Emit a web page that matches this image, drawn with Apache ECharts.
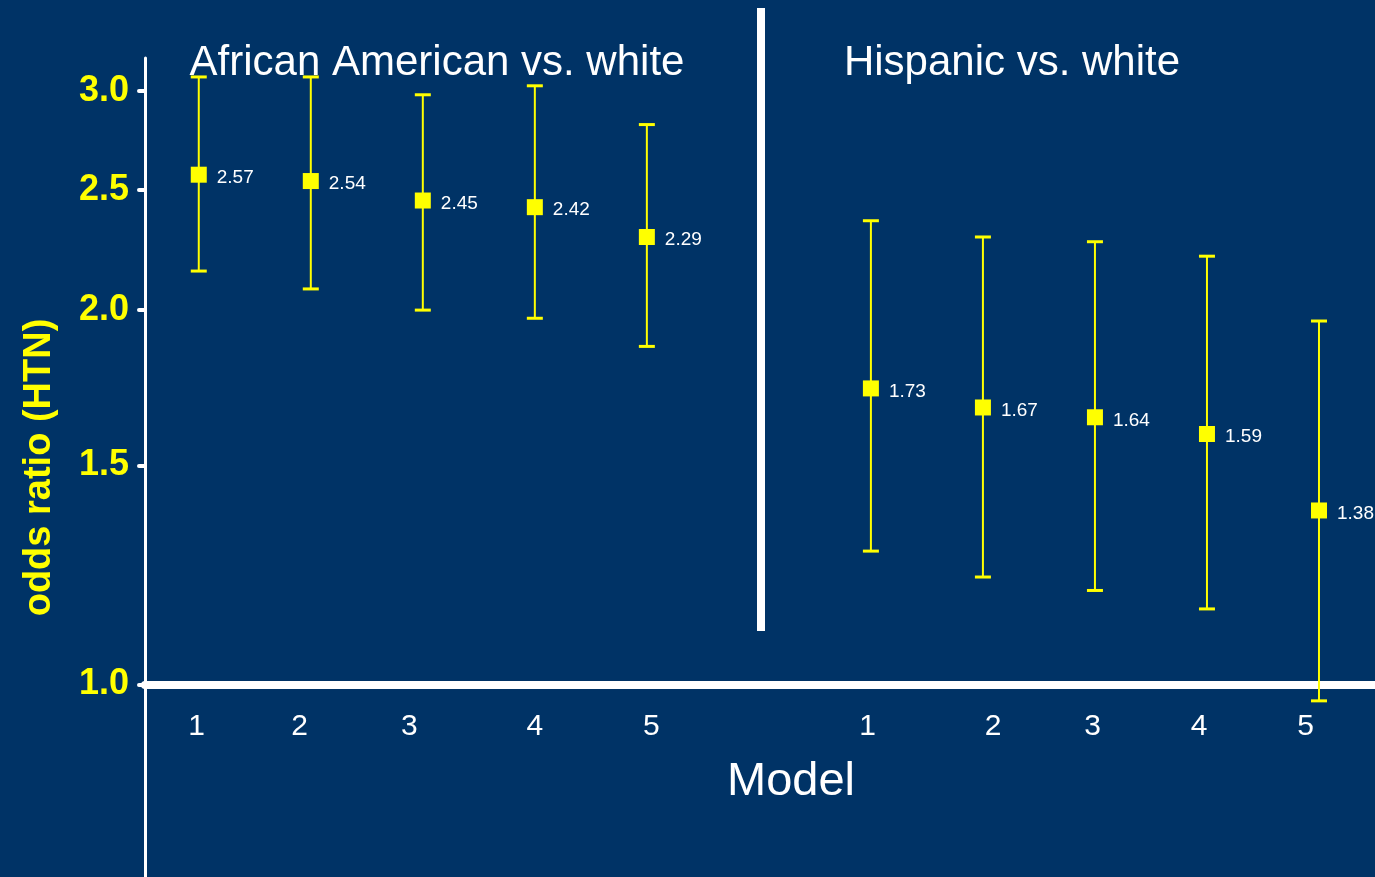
<!DOCTYPE html>
<html>
<head>
    <meta charset="UTF-8">
    <title>odds ratio (HTN)</title>
    <script src="https://cdn.jsdelivr.net/npm/echarts@6/dist/echarts.min.js"></script>
    <style>
        html, body { margin: 0; padding: 0; background: #003366; }
        #main { width: 1375px; height: 877px; }
    </style>
</head>
<body>
<div id="main"></div>
<script>
    // 数据
    var models = ['1', '2', '3', '4', '5'];
    var aaOR = [2.57, 2.54, 2.45, 2.42, 2.29];
    var aaLow = [2.15, 2.08, 2.00, 1.97, 1.87];
    var aaHigh = [3.08, 3.08, 2.98, 3.03, 2.82];
    var hisOR = [1.73, 1.67, 1.64, 1.59, 1.38];
    var hisLow = [1.28, 1.22, 1.19, 1.15, 0.97];
    var hisHigh = [2.36, 2.29, 2.27, 2.21, 1.96];
    var yTicks = [1.0, 1.5, 2.0, 2.5, 3.0];

    // x 位置：左组 1..5，右组 7..11
    var aaX = [1, 2, 3, 4, 5];
    var hisX = [7, 8, 9, 10, 11];
    // 刻度文字位置（原图稍有偏移）
    var labelX = [0.98, 1.9, 2.88, 4.0, 5.04, 6.97, 8.09, 8.98, 9.93, 10.88];

    var font = 'Liberation Sans, Arial, sans-serif';
    var yellow = '#ffff00';

    var points = [], bars = [];
    for (var i = 0; i < models.length; i++) {
        points.push([aaX[i], aaOR[i]]);
        bars.push([aaX[i], aaLow[i], aaHigh[i]]);
    }
    for (var j = 0; j < models.length; j++) {
        points.push([hisX[j], hisOR[j]]);
        bars.push([hisX[j], hisLow[j], hisHigh[j]]);
    }

    var myChart = echarts.init(document.getElementById('main'));

    var option = {
        backgroundColor: '#003366',
        animation: false,
        textStyle: { fontFamily: font },
        title: [
            { text: 'African American vs. white', left: 432, top: 37, textAlign: 'center',
              textStyle: { color: '#fff', fontSize: 42, fontWeight: 'normal', fontFamily: font } },
            { text: 'Hispanic vs. white', left: 1007, top: 37, textAlign: 'center',
              textStyle: { color: '#fff', fontSize: 42, fontWeight: 'normal', fontFamily: font } }
        ],
        grid: { left: 145, right: 0, top: 58, bottom: 0 },
        xAxis: {
            type: 'value',
            min: 0.52,
            max: 11.5,
            offset: -192,
            splitLine: { show: false },
            axisLine: { show: true, lineStyle: { color: '#fff', width: 8 } },
            axisTick: { show: false },
            axisLabel: {
                customValues: labelX,
                color: '#fff',
                fontSize: 30,
                margin: 27,
                fontFamily: font,
                formatter: function (v) {
                    var k = labelX.indexOf(v);
                    return k < 0 ? '' : models[k % models.length];
                }
            },
            name: 'Model',
            nameLocation: 'middle',
            nameGap: 74,
            nameTextStyle: { color: '#fff', fontSize: 47, fontFamily: font, padding: [0, 0, 0, 62] }
        },
        yAxis: {
            type: 'log',
            min: 0.70,
            max: 3.19,
            splitLine: { show: false },
            axisLine: { show: true, lineStyle: { color: '#fff', width: 3 } },
            axisTick: { show: true, customValues: yTicks, length: 6,
                        lineStyle: { color: '#fff', width: 4, cap: 'round' } },
            axisLabel: {
                customValues: yTicks,
                color: yellow,
                fontSize: 36,
                fontWeight: 'bold',
                margin: 16,
                padding: [4, 0, 0, 0],
                fontFamily: font,
                formatter: function (v) { return Number(v).toFixed(1); }
            },
            name: 'odds ratio (HTN)',
            nameLocation: 'middle',
            nameGap: 86,
            nameTextStyle: { color: yellow, fontSize: 38, fontWeight: 'bold', fontFamily: font }
        },
        graphic: [
            { type: 'rect', shape: { x: 757, y: 8, width: 8, height: 623 }, style: { fill: '#fff' } }
        ],
        series: [
            {
                type: 'custom',
                data: bars,
                renderItem: function (params, api) {
                    var x = api.value(0);
                    var lo = api.coord([x, api.value(1)]);
                    var hi = api.coord([x, api.value(2)]);
                    var w = 8;
                    var st = { stroke: yellow, lineWidth: 2 };
                    return {
                        type: 'group',
                        children: [
                            { type: 'line', shape: { x1: lo[0], y1: lo[1], x2: hi[0], y2: hi[1] }, style: st },
                            { type: 'line', shape: { x1: lo[0] - w, y1: lo[1], x2: lo[0] + w, y2: lo[1] }, style: { stroke: yellow, lineWidth: 3 } },
                            { type: 'line', shape: { x1: hi[0] - w, y1: hi[1], x2: hi[0] + w, y2: hi[1] }, style: { stroke: yellow, lineWidth: 3 } }
                        ]
                    };
                },
                z: 2
            },
            {
                type: 'scatter',
                data: points,
                symbol: 'rect',
                symbolSize: 16,
                itemStyle: { color: yellow, opacity: 1 },
                label: {
                    show: true,
                    position: 'right',
                    distance: 10,
                    offset: [0, 3],
                    color: '#fff',
                    fontSize: 19,
                    fontFamily: font,
                    formatter: function (p) { return p.value[1].toFixed(2); }
                },
                z: 3
            }
        ]
    };
    myChart.setOption(option);
</script>
</body>
</html>
